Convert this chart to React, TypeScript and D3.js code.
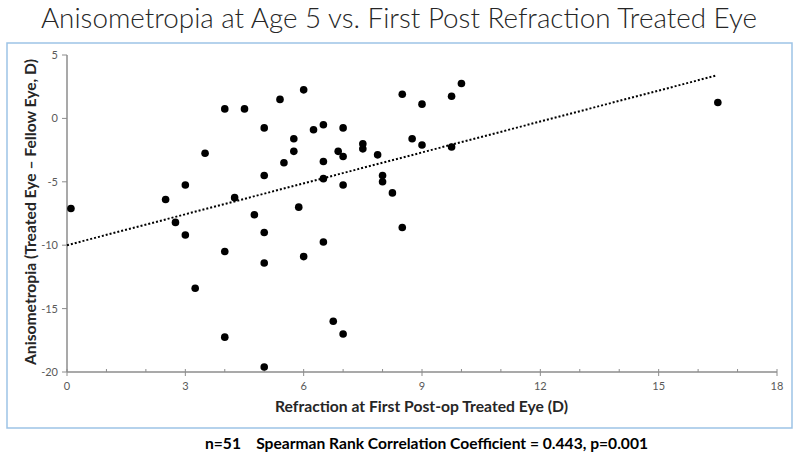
import React from "react";
import * as d3 from "d3";

const refraction: number[] = [
  0.1, 2.5, 2.75, 3, 3, 3.5, 4, 4.25, 4.5, 4.75,
  5, 5, 5, 5.4, 5.5, 5.75, 5.75, 5.875, 6, 6.25,
  6.5, 6.5, 6.5, 6.5, 6.875, 7, 7, 7, 7.5, 7.5,
  7.875, 8, 8, 8.25, 8.5, 8.5, 9, 9.75, 10, 8.75,
  9, 9.75, 16.5, 4, 5, 6, 3.25, 4, 5, 6.75, 7,
];
const anisometropia: number[] = [
  -7.1, -6.4, -8.2, -5.25, -9.2, -2.75, 0.75, -6.25, 0.75, -7.6,
  -0.75, -4.5, -9, 1.5, -3.5, -1.6, -2.6, -7, 2.25, -0.9,
  -0.5, -3.4, -4.75, -9.75, -2.6, -0.75, -3, -5.25, -2, -2.4,
  -2.875, -4.5, -5, -5.875, 1.9, -8.6, 1.125, 1.75, 2.75, -1.6,
  -2.1, -2.25, 1.25, -10.5, -11.4, -10.9, -13.4, -17.25, -19.6, -16, -17,
];
const xTicks: number[] = [0, 3, 6, 9, 12, 15, 18];
const xMinorTicks: number[] = d3.range(0, 19, 1);
const yTicks: number[] = [5, 0, -5, -10, -15, -20];
const trendX: number[] = [0, 16.45];
const trendIntercept = -10.0;
const trendSlope = 0.813;

const title = "Anisometropia at Age 5 vs. First Post Refraction Treated Eye";
const xTitle = "Refraction at First Post-op Treated Eye (D)";
const yTitle = "Anisometropia (Treated Eye \u2013 Fellow Eye, D)";
const note = "n=51    Spearman Rank Correlation Coefficient = 0.443, p=0.001";

export default function App() {
  const W = 800;
  const H = 458;
  const x = d3.scaleLinear().domain([0, 18]).range([67, 777]);
  const y = d3.scaleLinear().domain([-20, 5]).range([372, 55]);
  const line = d3
    .line<number>()
    .x((d) => x(d))
    .y((d) => y(trendIntercept + trendSlope * d));
  const font = "Lato, 'Open Sans', sans-serif";
  const axisColor = "#8c8c8c";
  const labelColor = "#595959";

  return (
    <svg
      width={W}
      height={H}
      style={{ position: "absolute", left: 0, top: 0, background: "#fff" }}
    >
      <rect x={0} y={0} width={W} height={H} fill="#fff" />
      <text
        x={399}
        y={28}
        textAnchor="middle"
        fontFamily={font}
        fontWeight={300}
        fontSize={27}
        fill="#262626"
        textLength={716}
        lengthAdjust="spacingAndGlyphs"
      >
        {title}
      </text>
      <rect
        x={7}
        y={43}
        width={785}
        height={385}
        fill="none"
        stroke="#9dc3e6"
        strokeWidth={1.5}
      />
      {/* y axis */}
      <line x1={x(0)} x2={x(0)} y1={y(5)} y2={y(-20)} stroke={axisColor} strokeWidth={1.5} />
      {yTicks.map((t) => (
        <g key={"y" + t}>
          <line x1={x(0) - 5} x2={x(0)} y1={y(t)} y2={y(t)} stroke={axisColor} strokeWidth={1} />
          <text
            x={x(0) - 9}
            y={y(t) + 4}
            textAnchor="end"
            fontFamily={font}
            fontSize={11}
            fill={labelColor}
          >
            {t}
          </text>
        </g>
      ))}
      {/* x axis */}
      <line x1={x(0)} x2={x(18)} y1={y(-20)} y2={y(-20)} stroke={axisColor} strokeWidth={1.5} />
      {xMinorTicks.map((t) => (
        <line
          key={"xm" + t}
          x1={x(t)}
          x2={x(t)}
          y1={y(-20) - 3}
          y2={y(-20) + (t % 3 === 0 ? 4 : 0)}
          stroke={axisColor}
          strokeWidth={1}
        />
      ))}
      {xTicks.map((t) => (
        <text
          key={"xl" + t}
          x={x(t)}
          y={y(-20) + 18}
          textAnchor="middle"
          fontFamily={font}
          fontSize={11}
          fill={labelColor}
        >
          {t}
        </text>
      ))}
      {/* trend line */}
      <path
        d={line(trendX) || ""}
        fill="none"
        stroke="#000"
        strokeWidth={2}
        strokeDasharray="2 2"
      />
      {/* points */}
      {refraction.map((rx, i) => (
        <circle key={"p" + i} cx={x(rx)} cy={y(anisometropia[i])} r={3.8} fill="#000" />
      ))}
      {/* axis titles */}
      <text
        x={421.5}
        y={412}
        textAnchor="middle"
        fontFamily={font}
        fontWeight={700}
        fontSize={16}
        fill="#262626"
        textLength={293}
        lengthAdjust="spacingAndGlyphs"
      >
        {xTitle}
      </text>
      <text
        transform={`translate(36, 212) rotate(-90)`}
        textAnchor="middle"
        fontFamily={font}
        fontWeight={700}
        fontSize={16}
        fill="#262626"
        textLength={306}
        lengthAdjust="spacingAndGlyphs"
      >
        {yTitle}
      </text>
      <text
        x={426.5}
        y={449}
        textAnchor="middle"
        fontFamily={font}
        fontWeight={700}
        fontSize={15}
        fill="#000"
        textLength={443}
        lengthAdjust="spacingAndGlyphs"
        style={{ whiteSpace: "pre" }}
      >
        {note}
      </text>
    </svg>
  );
}
